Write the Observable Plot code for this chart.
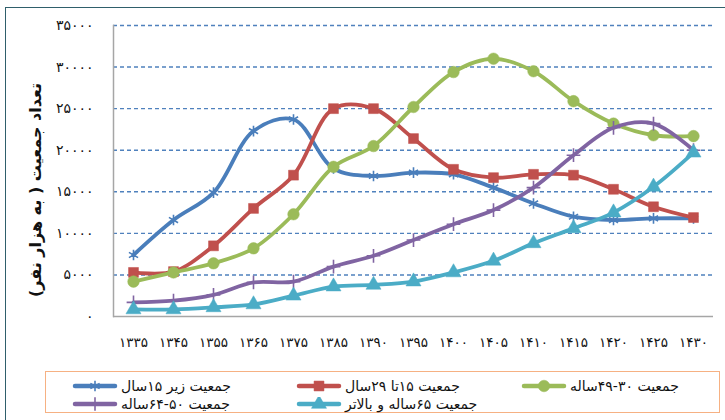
<!DOCTYPE html>
<html>
<head>
<meta charset="utf-8">
<script src="https://cdn.jsdelivr.net/npm/d3@7"></script>
<script src="https://cdn.jsdelivr.net/npm/@observablehq/plot@0.6"></script>
<style>
  html, body { margin: 0; padding: 0; background: #fff; }
  #wrap { position: relative; width: 725px; height: 420px; overflow: hidden; font-family: "DejaVu Sans", sans-serif; }
  #frame { position: absolute; left: 5px; top: 7px; width: 740px; height: 430px; border-left: 1.5px solid #2f5f6b; border-top: 1.5px solid #2f5f6b; box-sizing: border-box; }
  #chart { position: absolute; left: 0; top: 0; }
  #ytitle { position: absolute; left: 35px; top: 190px; transform: translate(-50%, -50%) rotate(-90deg); white-space: nowrap; font-weight: bold; font-size: 16px; direction: rtl; color: #111; }
  #legend { position: absolute; left: 45px; top: 371px; width: 675px; height: 42px; border: 1.5px solid #f6b183; box-sizing: border-box; }
  .entry { position: absolute; display: flex; align-items: center; height: 20px; }
  .entry svg { flex: none; }
  .entry span { direction: rtl; font-size: 14px; color: #111; margin-left: 3px; white-space: nowrap; }
</style>
</head>
<body>
<div id="wrap">
  <div id="frame"></div>
  <div id="chart"></div>
  <div id="ytitle">تعداد جمعیت ( به هزار نفر)</div>
  <div id="legend"></div>
</div>
<script>
// ---- data ----
const years = [1335, 1345, 1355, 1365, 1375, 1385, 1390, 1395, 1400, 1405, 1410, 1415, 1420, 1425, 1430];
const xTickLabels = ["۱۳۳۵","۱۳۴۵","۱۳۵۵","۱۳۶۵","۱۳۷۵","۱۳۸۵","۱۳۹۰","۱۳۹۵","۱۴۰۰","۱۴۰۵","۱۴۱۰","۱۴۱۵","۱۴۲۰","۱۴۲۵","۱۴۳۰"];
const yTicks = [0, 5000, 10000, 15000, 20000, 25000, 30000, 35000];
const yTickLabels = ["۰","۵۰۰۰","۱۰۰۰۰","۱۵۰۰۰","۲۰۰۰۰","۲۵۰۰۰","۳۰۰۰۰","۳۵۰۰۰"];

const under15   = [7400, 11600, 14900, 22300, 23700, 17800, 16900, 17300, 17100, 15500, 13600, 12000, 11600, 11800, 11800];
const age15to29 = [5300, 5400, 8500, 13000, 17000, 25000, 25000, 21400, 17700, 16700, 17100, 17000, 15300, 13200, 11900];
const age30to49 = [4200, 5300, 6400, 8200, 12300, 18000, 20500, 25200, 29400, 31000, 29500, 25900, 23200, 21800, 21700];
const age50to64 = [1700, 1900, 2600, 4100, 4200, 6000, 7300, 9200, 11100, 12800, 15500, 19400, 22700, 23200, 20000];
const age65plus = [850, 850, 1100, 1450, 2500, 3600, 3800, 4200, 5300, 6700, 8800, 10600, 12500, 15600, 19700];

const seriesNames = ["جمعیت زیر ۱۵سال", "جمعیت ۱۵تا ۲۹سال", "جمعیت ۳۰-۴۹ساله", "جمعیت ۵۰-۶۴ساله", "جمعیت ۶۵ساله و بالاتر"];
const seriesValues = [under15, age15to29, age30to49, age50to64, age65plus];

// ---- styles ----
const colors = ["#4a7ebb", "#c0504d", "#9bbb59", "#8064a2", "#4bacc6"];
const symbols = ["asterisk", "square", "circle", "plus", "triangle"];
const dotR = [5, 5.6, 5.8, 4.5, 5.6];

const rows = seriesValues.map((vals, s) => years.map((y, i) => ({year: y, value: vals[i], s})));

const marks = [
  Plot.gridY(yTicks.filter(d => d > 0), {stroke: "#4f81bd", strokeOpacity: 1, strokeWidth: 1.4, strokeDasharray: "4,3"}),
  Plot.ruleY([0], {stroke: "#a6a6a6", strokeWidth: 1.5}),
  Plot.frame({anchor: "left", stroke: "#a6a6a6", strokeWidth: 1.5}),
  Plot.axisX({tickSize: 0, tickPadding: 21, fontSize: 13.5, tickFormat: d => xTickLabels[years.indexOf(d)]}),
  Plot.axisY(yTicks, {tickSize: 0, tickPadding: 20, fontSize: 14, label: null, tickFormat: d => yTickLabels[yTicks.indexOf(d)]})
];
rows.forEach((data, s) => {
  marks.push(Plot.line(data, {x: "year", y: "value", stroke: colors[s], strokeWidth: 3.8, curve: "catmull-rom"}));
  const sym = symbols[s];
  const outline = sym === "asterisk" || sym === "plus";
  marks.push(Plot.dot(data, {x: "year", y: "value", symbol: () => sym, r: dotR[s],
    fill: outline ? "none" : colors[s], stroke: colors[s], strokeWidth: outline ? 1.6 : 0.5}));
});

const chart = Plot.plot({
  width: 725,
  height: 355,
  marginLeft: 113,
  marginRight: 12,
  marginTop: 25,
  marginBottom: 39,
  style: {fontFamily: "DejaVu Sans, sans-serif", color: "#111", background: "transparent"},
  x: {type: "point", domain: years, padding: 0.5, label: null},
  y: {domain: [0, 35000], label: null},
  symbol: {type: "identity"},
  marks
});
document.getElementById("chart").appendChild(chart);

// ---- legend ----
const legend = document.getElementById("legend");
const slots = [[26, 4], [250, 4], [475, 4], [26, 22], [250, 22]];
seriesNames.forEach((name, s) => {
  const e = document.createElement("div");
  e.className = "entry";
  e.style.left = slots[s][0] + "px";
  e.style.top = slots[s][1] + "px";
  const svg = d3.create("svg").attr("width", 46).attr("height", 14);
  svg.append("line").attr("x1", 3).attr("x2", 43).attr("y1", 7).attr("y2", 7)
    .attr("stroke", colors[s]).attr("stroke-width", 4.5).attr("stroke-linecap", "round");
  const sym = symbols[s];
  const outline = sym === "asterisk" || sym === "plus";
  const symType = {asterisk: d3.symbolAsterisk, square: d3.symbolSquare, circle: d3.symbolCircle, plus: d3.symbolPlus, triangle: d3.symbolTriangle}[sym];
  svg.append("path").attr("transform", "translate(23,7)")
    .attr("d", d3.symbol(symType, Math.PI * dotR[s] * dotR[s])())
    .attr("fill", outline ? "none" : colors[s]).attr("stroke", colors[s]).attr("stroke-width", outline ? 1.6 : 0.5);
  e.appendChild(svg.node());
  const t = document.createElement("span");
  t.textContent = name;
  e.appendChild(t);
  legend.appendChild(e);
});
</script>
</body>
</html>
